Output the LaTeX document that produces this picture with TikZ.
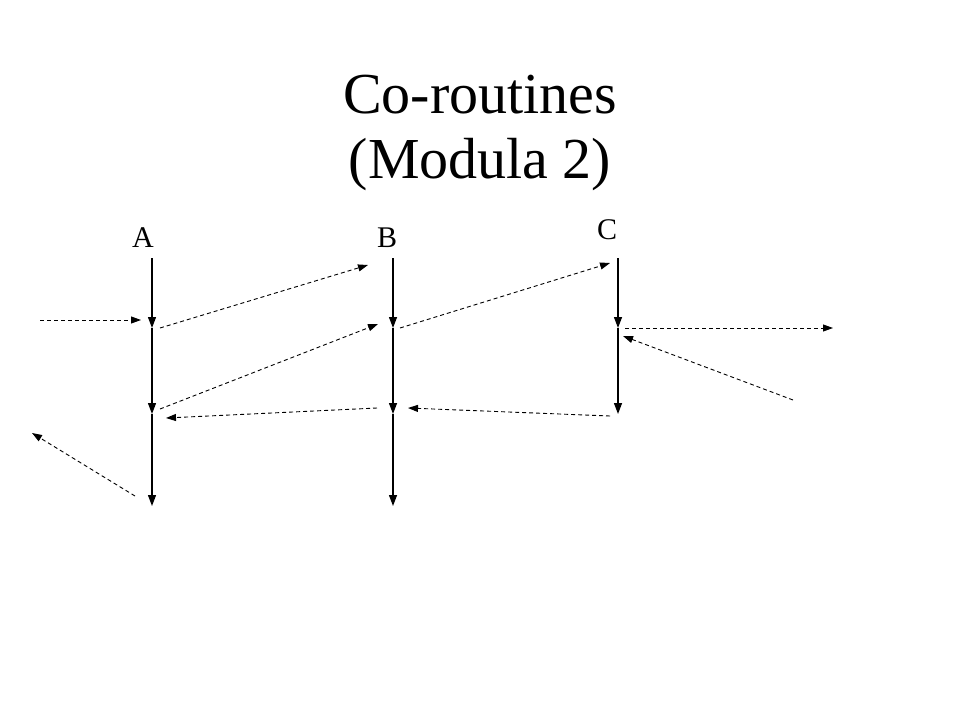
\documentclass[tikz,border=0pt]{standalone}
\usepackage{fontspec}
\setmainfont{Liberation Serif}
\usetikzlibrary{arrows.meta}
\begin{document}
\begin{tikzpicture}[x=1pt,y=-1pt,
  life/.style={line width=1.3pt,-{Triangle[length=11pt,width=8pt]}},
  msg/.style={line width=0.9pt,dash pattern=on 4pt off 3pt,-{Triangle[length=10pt,width=7pt]}},
  lbl/.style={font=\fontsize{30}{32}\selectfont,inner sep=0pt}]
\useasboundingbox (0,0) rectangle (960,720);
\node[align=center,font=\fontsize{58}{65}\selectfont] (title) at (480,133) {Co-routines\\(Modula 2)};
\node[lbl] (la) at (143,238) {A};
\node[lbl] (lb) at (387,238) {B};
\node[lbl] (lc) at (607,230) {C};
% lifelines
\coordinate (a0) at (152,258); \coordinate (a1) at (152,328); \coordinate (a2) at (152,414); \coordinate (a3) at (152,506);
\coordinate (b0) at (393,258); \coordinate (b1) at (393,328); \coordinate (b2) at (393,414); \coordinate (b3) at (393,506);
\coordinate (c0) at (618,258); \coordinate (c1) at (618,328); \coordinate (c2) at (618,414);
\draw[life] (a0) -- (a1); \draw[life] (a1) -- (a2); \draw[life] (a2) -- (a3);
\draw[life] (b0) -- (b1); \draw[life] (b1) -- (b2); \draw[life] (b2) -- (b3);
\draw[life] (c0) -- (c1); \draw[life] (c1) -- (c2);
% messages
\coordinate (m1s) at (40,320); \coordinate (m1e) at (141,320);
\coordinate (m2s) at (160,328); \coordinate (m2e) at (368,265);
\coordinate (m3s) at (160,409); \coordinate (m3e) at (378,324);
\coordinate (m4s) at (377,408); \coordinate (m4e) at (166,418);
\coordinate (m5s) at (135,496); \coordinate (m5e) at (32,433);
\coordinate (m6s) at (400,328); \coordinate (m6e) at (610,263);
\coordinate (m7s) at (610,416); \coordinate (m7e) at (408,408);
\coordinate (m8s) at (625,328); \coordinate (m8e) at (833,328);
\coordinate (m9s) at (793,400); \coordinate (m9e) at (623,336);
\foreach \i in {1,...,9} \draw[msg] (m\i s) -- (m\i e);
\end{tikzpicture}
\end{document}
